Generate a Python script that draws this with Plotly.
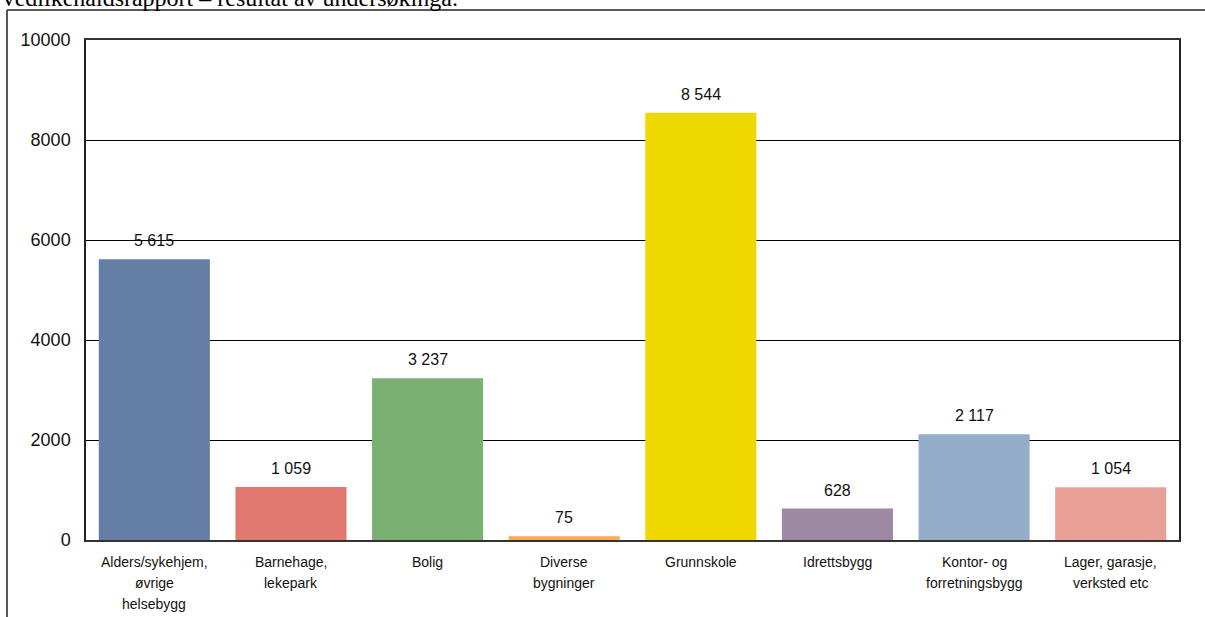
import plotly.graph_objects as go

# data
categories = ['Alders/sykehjem,<br>øvrige<br>helsebygg', 'Barnehage,<br>lekepark', 'Bolig',
              'Diverse<br>bygninger', 'Grunnskole', 'Idrettsbygg',
              'Kontor- og<br>forretningsbygg', 'Lager, garasje,<br>verksted etc']
values = [5615, 1059, 3237, 75, 8544, 628, 2117, 1054]
value_labels = ['5 615', '1 059', '3 237', '75', '8 544', '628', '2 117', '1 054']
bar_colors = ['#647ea6', '#e07870', '#7ab173', '#fbaa55', '#efd800', '#9d89a3', '#94adc9', '#e8a097']
y_ticks = [0, 2000, 4000, 6000, 8000, 10000]

W, H = 1205, 617
L, R, T, B = 86, 26, 40, 77
pw, ph = W - L - R, H - T - B


def px_x(x):
    """pixel -> paper x"""
    return (x - L) / pw


def px_y(y):
    """pixel -> paper y"""
    return (H - B - y) / ph


keys = [c.replace('<br>', ' ') for c in categories]

fig = go.Figure(go.Bar(x=keys, y=values, marker=dict(color=bar_colors, line=dict(width=0)),
                       hoverinfo='x+y'))

annotations = []
# value labels above the bars
for k, v, t in zip(keys, values, value_labels):
    annotations.append(dict(x=k, y=v, xref='x', yref='y', text=t, showarrow=False,
                            yanchor='bottom', yshift=8,
                            font=dict(family='Liberation Sans, Arial', size=16, color='#111111')))
# category labels, line by line (wide line spacing)
for k, c in zip(keys, categories):
    for i, line in enumerate(c.split('<br>')):
        annotations.append(dict(x=k, y=0, xref='x', yref='paper', text=line, showarrow=False,
                                yanchor='middle', yshift=-22 - 21 * i,
                                font=dict(family='Liberation Sans, Arial', size=14, color='#111111')))
# cut-off heading of the page
annotations.append(dict(x=px_x(-2), y=px_y(13), xref='paper', yref='paper', xanchor='left', yanchor='bottom',
                        text='Vedlikehaldsrapport – resultat av undersøkinga.', showarrow=False,
                        font=dict(family='Liberation Serif, Times New Roman', size=24, color='#000000')))

shapes = [
    dict(type='line', xref='paper', yref='paper', x0=px_x(7), x1=px_x(W + 5), y0=px_y(10), y1=px_y(10),
         line=dict(color='#222222', width=1.5)),
    dict(type='line', xref='paper', yref='paper', x0=px_x(7), x1=px_x(7), y0=px_y(10), y1=px_y(H + 5),
         line=dict(color='#222222', width=1.5)),
]

fig.update_layout(
    width=W, height=H,
    margin=dict(l=L, r=R, t=T, b=B),
    paper_bgcolor='#ffffff', plot_bgcolor='#ffffff',
    bargap=0.187, showlegend=False,
    annotations=annotations, shapes=shapes,
    font=dict(family='Liberation Sans, Arial', color='#111111'),
    xaxis=dict(showticklabels=False, showline=True, linecolor='#333333', linewidth=1.5, mirror=True,
               showgrid=False, ticks=''),
    yaxis=dict(range=[0, 10000], tickvals=y_ticks, tickformat='d', showgrid=True, gridcolor='#000000',
               gridwidth=1, showline=True, linecolor='#222222', linewidth=1.5, mirror=True, zeroline=False,
               tickfont=dict(size=18, color='#111111'), ticklabelstandoff=10, ticks=''),
)

# no body margin so the figure sits at the top-left corner of the window
fig.write_html('out.html', config={'displayModeBar': False},
               post_script="document.body.style.margin='0';document.body.style.overflow='hidden';")
